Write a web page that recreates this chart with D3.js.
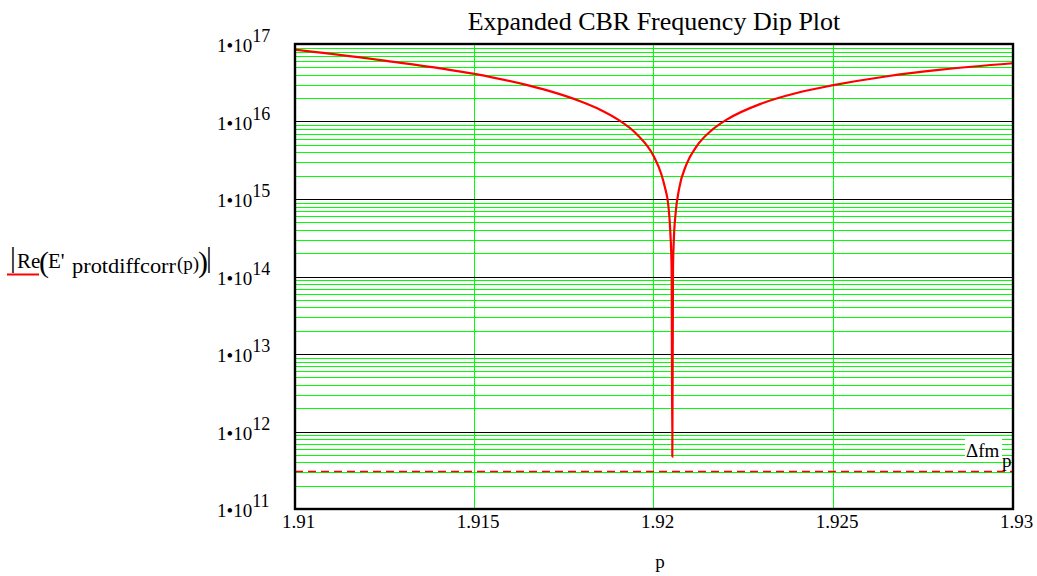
<!DOCTYPE html>
<html>
<head>
<meta charset="utf-8">
<script src="https://cdn.jsdelivr.net/npm/d3@7"></script>
<style>
  body { margin: 0; background: #fff; }
  text { font-family: "Liberation Serif", "Times New Roman", serif; fill: #000; }
</style>
</head>
<body>
<div id="vis"></div>
<script>
// curve: p and |Re(E'protdiffcorr(p))|
var pVals = [1.91, 1.9125, 1.915, 1.9165, 1.917, 1.918, 1.9185, 1.919, 1.9195, 1.92,
             1.9202, 1.9203, 1.9204, 1.92045, 1.92049, 1.92051, 1.92053, 1.92055, 1.9206,
             1.9207, 1.9209, 1.9212, 1.9216, 1.922, 1.923, 1.924, 1.925, 1.9265, 1.928, 1.93];
var eVals = [8.45e16, 6.1e16, 4.11e16, 2.92e16, 2.54e16, 1.785e16, 1.42e16, 1.056e16, 7.0e15, 3.5e15,
             2.12e15, 1.44e15, 8.2e14, 4.1e14, 1.3e14, 4.73e11, 1.3e14, 2.8e14, 6.4e14,
             1.36e15, 2.77e15, 4.88e15, 7.67e15, 1.04e16, 1.71e16, 2.35e16, 2.94e16, 3.84e16, 4.66e16, 5.65e16];
var dfm = 3.12e11;   // Δfm_p level

var xTicks = [1.91, 1.915, 1.92, 1.925, 1.93];
var xTickLabels = ["1.91", "1.915", "1.92", "1.925", "1.93"];
var yExps = [11, 12, 13, 14, 15, 16, 17];

var w = 1037, h = 576;
var pLeft = 295, pRight = 1013, pTop = 44, pBottom = 509;

var svg = d3.select("#vis").append("svg")
            .attr("width", w)
            .attr("height", h);

var x_scale = d3.scaleLinear().domain([1.91, 1.93]).range([pLeft, pRight]);
var y_scale = d3.scaleLog().domain([1e11, 1e17]).range([pBottom, pTop]);

// minor grid (green) - 2..9 inside every decade
var minor = [];
yExps.slice(0, -1).forEach(function(e) {
  for (var k = 2; k <= 9; k++) minor.push(k * Math.pow(10, e));
});

var grid = svg.append("g");
grid.selectAll("line.minor")
    .data(minor)
    .enter().append("line")
    .attr("x1", pLeft).attr("x2", pRight)
    .attr("y1", d => Math.round(y_scale(d)) + 0.5)
    .attr("y2", d => Math.round(y_scale(d)) + 0.5)
    .attr("stroke", "#00ff00").attr("stroke-width", 1);

grid.selectAll("line.vert")
    .data(xTicks.slice(1))
    .enter().append("line")
    .attr("x1", d => Math.round(x_scale(d)) - 0.5)
    .attr("x2", d => Math.round(x_scale(d)) - 0.5)
    .attr("y1", pTop).attr("y2", pBottom)
    .attr("stroke", "#00ff00").attr("stroke-width", 1);

grid.selectAll("line.major")
    .data(yExps.slice(1, -1))
    .enter().append("line")
    .attr("x1", pLeft).attr("x2", pRight)
    .attr("y1", d => Math.round(y_scale(Math.pow(10, d))) + 0.5)
    .attr("y2", d => Math.round(y_scale(Math.pow(10, d))) + 0.5)
    .attr("stroke", "#000").attr("stroke-width", 1);

// Δfm_p dashed line
svg.append("line")
   .attr("x1", pLeft).attr("x2", pRight)
   .attr("y1", Math.round(y_scale(dfm)) + 0.5).attr("y2", Math.round(y_scale(dfm)) + 0.5)
   .attr("stroke", "#ff0000").attr("stroke-width", 1.4)
   .attr("stroke-dasharray", "8,5");

// label for the dashed trace, on white
svg.append("rect")
   .attr("x", 965).attr("y", 438).attr("width", 37).attr("height", 23)
   .attr("fill", "#fff");
var dl = svg.append("text").attr("x", 966).attr("y", 457).style("font-size", "19px");
dl.append("tspan").text("Δfm");
dl.append("tspan").attr("x", 1002).attr("y", 467).text("p");

// main curve
var pts = pVals.map((p, i) => [p, eVals[i]]);
var line = d3.line()
             .x(d => x_scale(d[0]))
             .y(d => y_scale(d[1]))
             .curve(d3.curveMonotoneX);

svg.append("path")
   .datum(pts)
   .attr("d", line)
   .attr("fill", "none")
   .attr("stroke", "#ff0000")
   .attr("stroke-width", 2.2);

// frame
svg.append("rect")
   .attr("x", pLeft).attr("y", pTop)
   .attr("width", pRight - pLeft).attr("height", pBottom - pTop)
   .attr("fill", "none").attr("stroke", "#000").attr("stroke-width", 2.4);

// x axis labels
var xAxis = d3.axisBottom(x_scale)
              .tickValues(xTicks)
              .tickFormat((d, i) => xTickLabels[i])
              .tickSize(0)
              .tickPadding(0);
var xg = svg.append("g")
            .attr("transform", `translate(3,${pBottom})`)
            .call(xAxis);
xg.select(".domain").remove();
xg.selectAll("text")
  .attr("dy", null).attr("y", 19)
  .style("font-size", "19px")
  .style("font-family", "'Liberation Serif', 'Times New Roman', serif")
  .attr("fill", "#000");

// y axis labels 1•10^n
var yl = svg.append("g").selectAll("text")
            .data(yExps)
            .enter().append("text")
            .attr("x", 217)
            .attr("y", d => y_scale(Math.pow(10, d)) + 8)
            .style("font-size", "19px");
yl.append("tspan").text("1•10");
yl.append("tspan").attr("dy", -10).style("font-size", "18px").text(d => d);

// title
svg.append("text")
   .attr("x", (pLeft + pRight) / 2).attr("y", 30)
   .attr("text-anchor", "middle")
   .style("font-size", "26px")
   .text("Expanded CBR Frequency Dip Plot");

// x title
svg.append("text")
   .attr("x", 660).attr("y", 568)
   .attr("text-anchor", "middle")
   .style("font-size", "19px")
   .text("p");

// y title with legend swatch
var yt = svg.append("g");
yt.append("text").attr("x", 10).attr("y", 267).style("font-size", "29px").text("|");
yt.append("text").attr("x", 17).attr("y", 268).style("font-size", "21px").text("Re");
yt.append("text").attr("x", 39).attr("y", 272).style("font-size", "30px").text("(");
yt.append("text").attr("x", 48).attr("y", 268).style("font-size", "21px").text("E'");
yt.append("text").attr("x", 72).attr("y", 273).style("font-size", "21px")
  .attr("textLength", 104).attr("lengthAdjust", "spacingAndGlyphs").text("protdiffcorr");
yt.append("text").attr("x", 177).attr("y", 270).style("font-size", "19px").text("(p)");
yt.append("text").attr("x", 198).attr("y", 272).style("font-size", "30px").text(")");
yt.append("text").attr("x", 206).attr("y", 267).style("font-size", "29px").text("|");
yt.append("line")
  .attr("x1", 7).attr("x2", 39).attr("y1", 274.5).attr("y2", 274.5)
  .attr("stroke", "#ff0000").attr("stroke-width", 2);
</script>
</body>
</html>
